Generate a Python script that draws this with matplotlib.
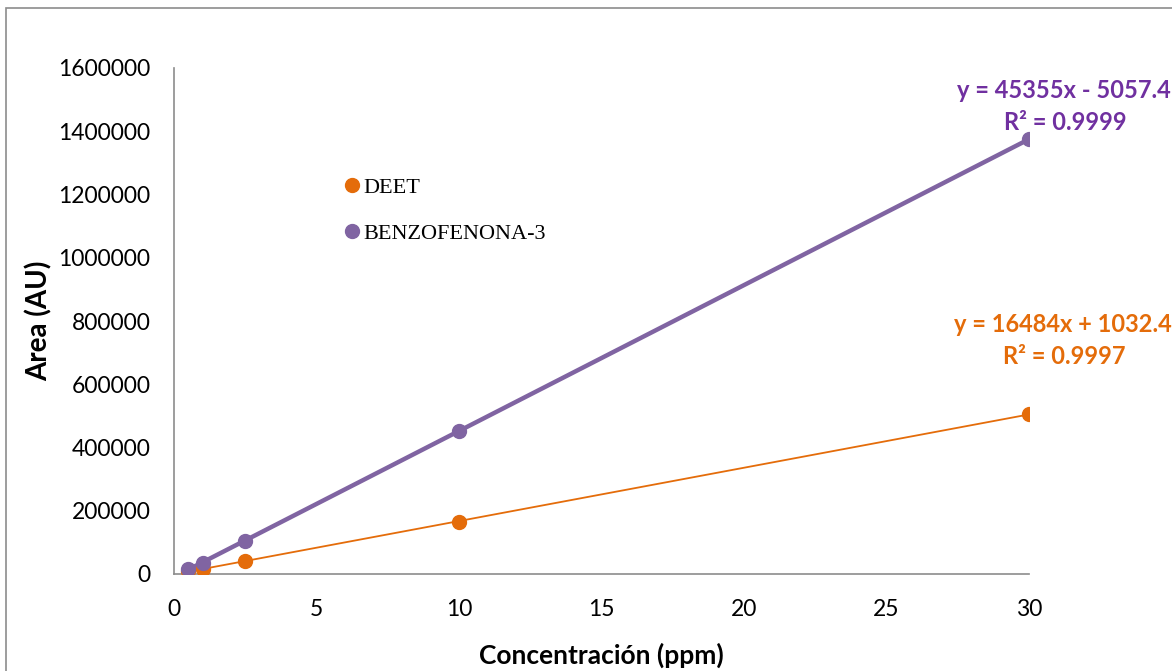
import matplotlib.pyplot as plt
from matplotlib.patches import Rectangle
import numpy as np

# data
conc = [0.5, 1, 2.5, 10, 30]
deet = [9000, 17000, 41000, 163000, 506000]
benzo = [17000, 35000, 105000, 452000, 1375000]
series_names = ["DEET", "BENZOFENONA-3"]
eq_deet = ["y = 16484x + 1032.4", "R² = 0.9997"]
eq_benzo = ["y = 45355x - 5057.4", "R² = 0.9999"]
yticks = [0, 200000, 400000, 600000, 800000, 1000000, 1200000, 1400000, 1600000]
xticks = [0, 5, 10, 15, 20, 25, 30]

orange = "#E46C0A"
purple = "#8064A2"
purple_txt = "#7030A0"

plt.rcParams['font.family'] = ['Lato', 'DejaVu Sans']

fig = plt.figure(figsize=(11.72, 6.71), dpi=100)
# outer chart border
fig.patches.append(Rectangle((6/1172, -0.05), 1.2, 1 - 8/671 + 0.05, transform=fig.transFigure,
                             fill=False, edgecolor="#8c8c8c", linewidth=1.2))

ax = fig.add_axes([174/1172, 97/671, 855/1172, 506/671])

# trendlines from the data (linear fit)
xx = np.array([min(conc), max(conc)])
p_d = np.polyfit(conc, deet, 1)
p_b = np.polyfit(conc, benzo, 1)
ax.plot(xx, np.polyval(p_d, xx), color=orange, lw=1.3, zorder=2)
ax.plot(xx, np.polyval(p_b, xx), color=purple, lw=3.2, zorder=2)

ax.plot(conc, deet, 'o', color=orange, ms=10, zorder=3)
ax.plot(conc, benzo, 'o', color=purple, ms=10, zorder=4)

ax.set_xlim(0, 30)
ax.set_ylim(0, 1600000)
ax.set_xticks(xticks)
ax.set_yticks(yticks)
ax.set_yticklabels([str(v) for v in yticks])
ax.tick_params(length=0, labelsize=16.5)
ax.tick_params(axis='y', pad=17)
ax.tick_params(axis='x', pad=18)
for s in ["top", "right"]:
    ax.spines[s].set_visible(False)
for s in ["left", "bottom"]:
    ax.spines[s].set_color("#8c8c8c")
    ax.spines[s].set_linewidth(1.2)

ax.set_xlabel("Concentración (ppm)", fontsize=19, fontweight="bold", labelpad=16)
ax.set_ylabel("Area (AU)", fontsize=20, fontweight="bold", labelpad=4)

# legend
leg = ax.legend(handles=[plt.Line2D([], [], marker='o', ls='', color=orange, ms=10),
                         plt.Line2D([], [], marker='o', ls='', color=purple, ms=10)],
                labels=series_names, loc='upper left', bbox_to_anchor=(0.172, 0.823),
                frameon=False, handletextpad=0.0, labelspacing=1.15,
                prop={'family': 'Liberation Serif', 'size': 16}, handlelength=1.0)

# trendline equations
fig.text(1064/1172, 1 - 90/671, eq_benzo[0], color=purple_txt, fontsize=17, fontweight="bold",
         ha="center", va="center")
fig.text(1065/1172, 1 - 122/671, eq_benzo[1], color=purple_txt, fontsize=17, fontweight="bold",
         ha="center", va="center")
fig.text(1063/1172, 1 - 325/671, eq_deet[0], color=orange, fontsize=17, fontweight="bold",
         ha="center", va="center")
fig.text(1064/1172, 1 - 356/671, eq_deet[1], color=orange, fontsize=17, fontweight="bold",
         ha="center", va="center")

fig.savefig("out.png", dpi=100)
